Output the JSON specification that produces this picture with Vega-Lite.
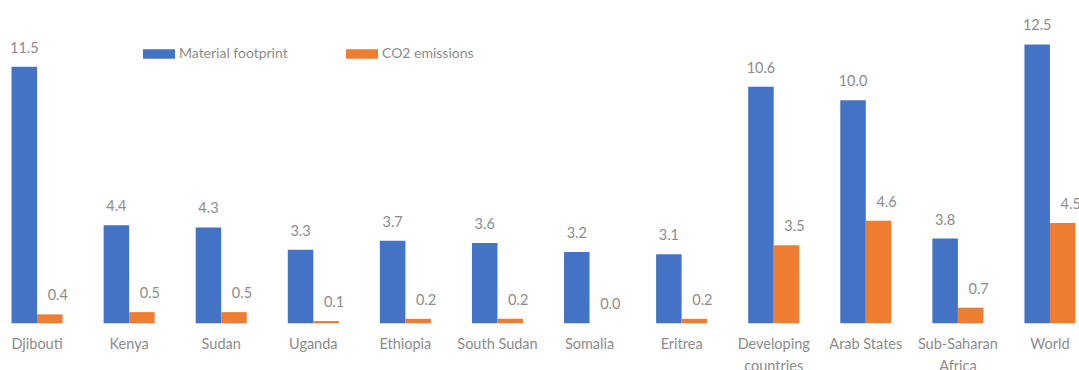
{
  "$schema": "https://vega.github.io/schema/vega-lite/v6.json",
  "autosize": {"type": "none"},
  "padding": {"left": -9, "top": 11, "right": -17, "bottom": 47},
  "width": 1105,
  "height": 312.3,
  "background": "white",
  "config": {
    "view": {"stroke": null},
    "font": "Lato",
    "text": {"font": "Lato"}
  },
  "data": {
    "values": [
      {"country": "Djibouti", "series": "Material footprint", "value": 11.5},
      {"country": "Djibouti", "series": "CO2 emissions", "value": 0.4},
      {"country": "Kenya", "series": "Material footprint", "value": 4.4},
      {"country": "Kenya", "series": "CO2 emissions", "value": 0.5},
      {"country": "Sudan", "series": "Material footprint", "value": 4.3},
      {"country": "Sudan", "series": "CO2 emissions", "value": 0.5},
      {"country": "Uganda", "series": "Material footprint", "value": 3.3},
      {"country": "Uganda", "series": "CO2 emissions", "value": 0.1},
      {"country": "Ethiopia", "series": "Material footprint", "value": 3.7},
      {"country": "Ethiopia", "series": "CO2 emissions", "value": 0.2},
      {"country": "South Sudan", "series": "Material footprint", "value": 3.6},
      {"country": "South Sudan", "series": "CO2 emissions", "value": 0.2},
      {"country": "Somalia", "series": "Material footprint", "value": 3.2},
      {"country": "Somalia", "series": "CO2 emissions", "value": 0.0},
      {"country": "Eritrea", "series": "Material footprint", "value": 3.1},
      {"country": "Eritrea", "series": "CO2 emissions", "value": 0.2},
      {"country": "Developing countries", "series": "Material footprint", "value": 10.6},
      {"country": "Developing countries", "series": "CO2 emissions", "value": 3.5},
      {"country": "Arab States", "series": "Material footprint", "value": 10.0},
      {"country": "Arab States", "series": "CO2 emissions", "value": 4.6},
      {"country": "Sub-Saharan Africa", "series": "Material footprint", "value": 3.8},
      {"country": "Sub-Saharan Africa", "series": "CO2 emissions", "value": 0.7},
      {"country": "World", "series": "Material footprint", "value": 12.5},
      {"country": "World", "series": "CO2 emissions", "value": 4.5}
    ]
  },
  "encoding": {
    "x": {
      "field": "country",
      "type": "nominal",
      "sort": null,
      "scale": {"paddingInner": 0.446, "paddingOuter": 0.223},
      "axis": {
        "title": null,
        "domain": false,
        "ticks": false,
        "labelAngle": 0,
        "labelFont": "Lato",
        "labelFontSize": 14.5,
        "labelColor": "#8c8c8c",
        "labelPadding": 14,
        "labelLineHeight": 22,
        "labelExpr": "indexof(['Developing countries','Sub-Saharan Africa'], datum.label) >= 0 ? split(datum.label, ' ') : datum.label"
      }
    },
    "xOffset": {
      "field": "series",
      "type": "nominal",
      "sort": ["Material footprint", "CO2 emissions"],
      "scale": {"paddingInner": 0, "paddingOuter": 0}
    },
    "y": {
      "field": "value",
      "type": "quantitative",
      "scale": {"domain": [0, 14], "nice": false},
      "axis": null
    }
  },
  "layer": [
    {
      "mark": {"type": "bar"},
      "encoding": {
        "color": {
          "field": "series",
          "type": "nominal",
          "sort": ["Material footprint", "CO2 emissions"],
          "scale": {"domain": ["Material footprint", "CO2 emissions"], "range": ["#4472C4", "#ED7D31"]},
          "legend": {
            "title": null,
            "orient": "none",
            "direction": "horizontal",
            "legendX": 158,
            "legendY": 33,
            "symbolType": "M-1.6,-0.47h3.2v0.94h-3.2z",
            "symbolSize": 400,
            "symbolStrokeWidth": 0,
            "labelOffset": 10,
            "labelFont": "Lato",
            "labelFontSize": 14,
            "labelColor": "#8c8c8c",
            "columnPadding": 58
          }
        }
      }
    },
    {
      "transform": [{"filter": "datum.series == 'Material footprint'"}],
      "mark": {"type": "text", "baseline": "alphabetic", "dy": -14, "fontSize": 14.5, "color": "#8c8c8c"},
      "encoding": {"text": {"field": "value", "type": "quantitative", "format": ".1f"}}
    },
    {
      "transform": [{"filter": "datum.series == 'CO2 emissions'"}],
      "mark": {"type": "text", "baseline": "alphabetic", "dy": -14, "dx": 8, "fontSize": 14.5, "color": "#8c8c8c"},
      "encoding": {"text": {"field": "value", "type": "quantitative", "format": ".1f"}}
    }
  ]
}
